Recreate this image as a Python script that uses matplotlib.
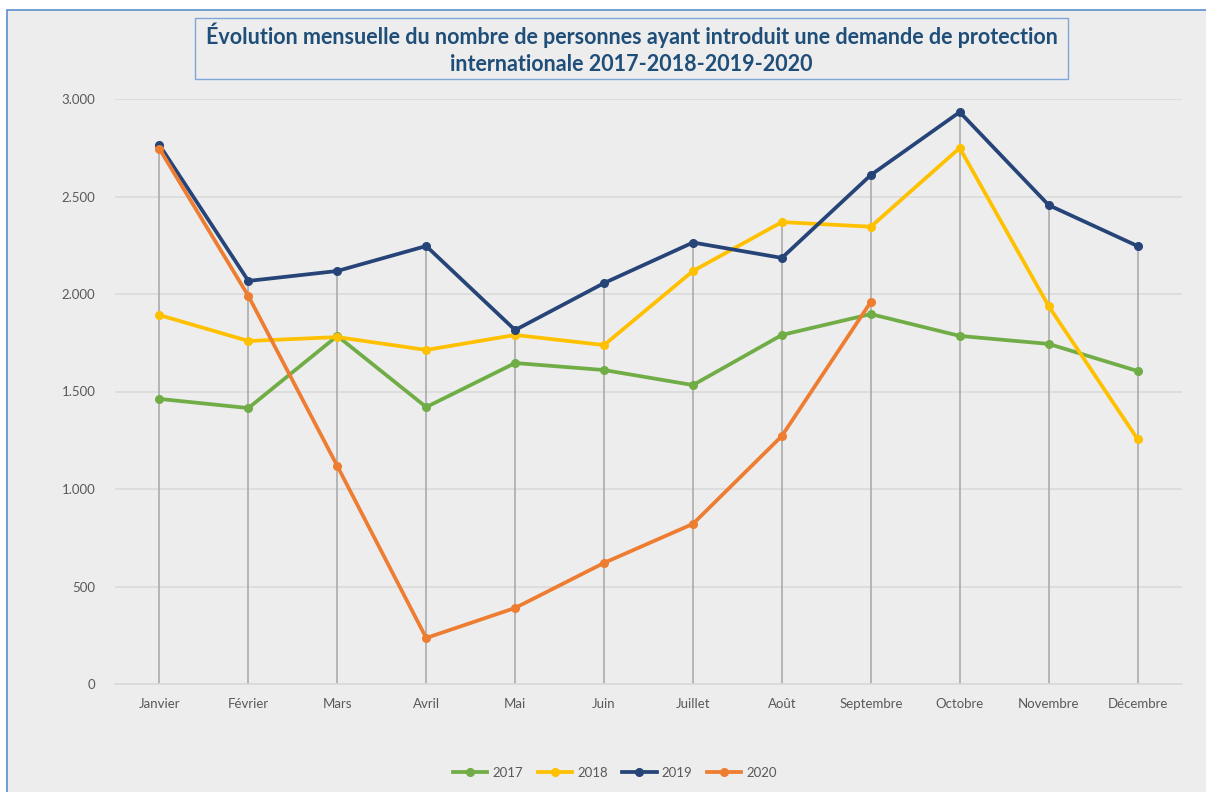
import numpy as np
import matplotlib
matplotlib.use("Agg")
import matplotlib.pyplot as plt
from matplotlib.patches import Rectangle
from matplotlib.ticker import FuncFormatter

# data
mois = ["Janvier", "Février", "Mars", "Avril", "Mai", "Juin", "Juillet",
        "Août", "Septembre", "Octobre", "Novembre", "Décembre"]
v2017 = [1462, 1415, 1785, 1420, 1646, 1610, 1533, 1790, 1897, 1785, 1744, 1605]
v2018 = [1892, 1759, 1779, 1713, 1790, 1738, 2118, 2369, 2345, 2749, 1938, 1256]
v2019 = [2764, 2067, 2118, 2246, 1815, 2056, 2264, 2185, 2610, 2933, 2456, 2246]
v2020 = [2744, 1990, 1118, 236, 390, 621, 821, 1272, 1959]

series = [("2017", v2017, "#70AD47"),
          ("2018", v2018, "#FFC000"),
          ("2019", v2019, "#264478"),
          ("2020", v2020, "#ED7D31")]

plt.rcParams["font.family"] = ["Lato", "DejaVu Sans"]

fig = plt.figure(figsize=(12.06, 7.92), dpi=100)
fig.patch.set_facecolor("white")

# chart frame (behind everything, runs off the right and bottom edges)
fig.patches.append(Rectangle((7 / 1206, -0.1), 1.1, 1.1 - 10 / 792, transform=fig.transFigure,
                             facecolor="#EDEDED", edgecolor="#5B8FC9", linewidth=1.2, zorder=-10))

ax = fig.add_axes([115 / 1206, 1 - 684 / 792, (1182 - 115) / 1206, (684 - 99) / 792])
ax.set_facecolor("#EDEDED")

x = np.arange(len(mois))

# drop lines from the highest value down to the axis
top = [max(s[1][i] for s in series if i < len(s[1])) for i in range(len(mois))]
ax.vlines(x, 0, top, color="#A6A6A6", linewidth=1.1, zorder=2)

for name, vals, col in series:
    ax.plot(x[:len(vals)], vals, color=col, linewidth=2.7, marker="o",
            markersize=5.5, label=name, zorder=3)

ax.set_xlim(-0.5, len(mois) - 0.5)
ax.set_ylim(0, 3000)
ax.set_yticks(np.arange(0, 3001, 500))
ax.yaxis.set_major_formatter(FuncFormatter(lambda v, p: f"{int(v):,}".replace(",", ".")))
ax.set_xticks(x)
ax.set_xticklabels(mois)
ax.tick_params(axis="both", length=0, colors="#595959", labelsize=9.5)
ax.tick_params(axis="y", pad=14)
ax.tick_params(axis="x", pad=10)
ax.grid(axis="y", color="#D9D9D9", linewidth=1.1, zorder=1)
ax.set_axisbelow(True)
for sp in ["top", "right", "left"]:
    ax.spines[sp].set_visible(False)
ax.spines["bottom"].set_color("#D9D9D9")
ax.spines["bottom"].set_linewidth(1.1)

# title box
fig.patches.append(Rectangle((195 / 1206, 1 - 79 / 792), (1068 - 195) / 1206, 61 / 792,
                             transform=fig.transFigure, facecolor="#EDEDED",
                             edgecolor="#7EA6D8", linewidth=1.0, zorder=1))
fig.text(631.5 / 1206, 1 - 48.5 / 792,
         "Évolution mensuelle du nombre de personnes ayant introduit une demande de protection\n"
         "internationale 2017-2018-2019-2020",
         ha="center", va="center", fontsize=15.5, fontweight="bold", color="#1F4E79",
         linespacing=1.35, zorder=2)

fig.legend(loc="center", bbox_to_anchor=(615 / 1206, 1 - 773 / 792), ncol=4, frameon=False,
           fontsize=9.5, labelcolor="#595959", handlelength=2.6, columnspacing=1.1,
           handletextpad=0.4)

fig.savefig("out.png", dpi=100)
